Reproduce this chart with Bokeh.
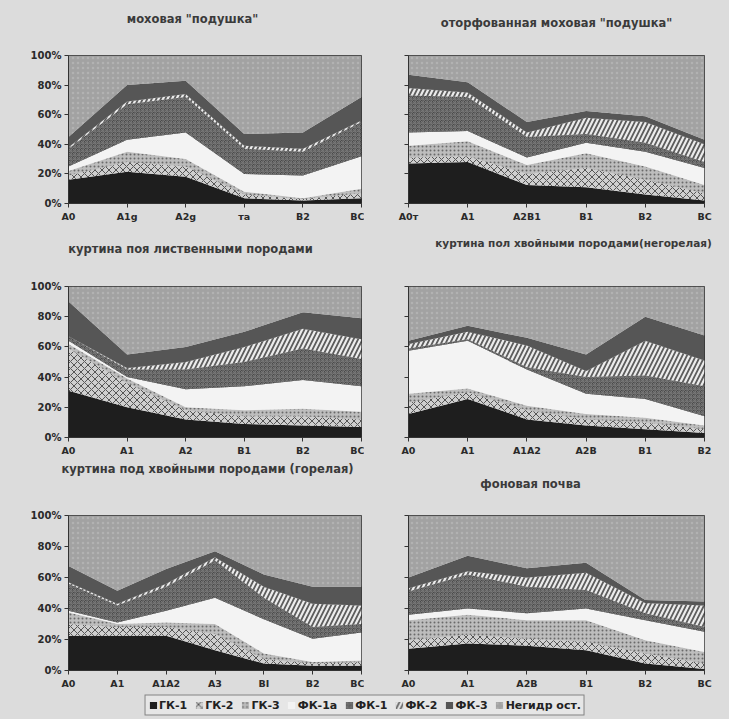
from bokeh.plotting import figure
from bokeh.layouts import column, row
from bokeh.models import Range1d, FixedTicker, Legend, LegendItem, ColumnDataSource, Label
from bokeh.embed import file_html
from bokeh.resources import INLINE

# ---------------- data ----------------
titles = [
    'моховая "подушка"',
    'оторфованная моховая "подушка"',
    'куртина поя лиственными породами',
    'куртина пол хвойными породами(негорелая)',
    'куртина под хвойными породами (горелая)',
    'фоновая почва',
]
categories = [
    ["A0", "A1g", "A2g", "та", "B2", "BC"],
    ["A0т", "A1", "A2B1", "B1", "B2", "BC"],
    ["A0", "A1", "A2", "B1", "B2", "BC"],
    ["A0", "A1", "A1A2", "A2B", "B1", "B2"],
    ["A0", "A1", "A1A2", "A3", "BI", "B2", "BC"],
    ["A0", "A1", "A2B", "B1", "B2", "BC"],
]
series_names = ["ГК-1", "ГК-2", "ГК-3", "ФК-1а", "ФК-1", "ФК-2", "ФК-3", "Негидр ост."]

gk1 = [[16, 21.5, 18, 3.5, 2, 3.5],
       [27, 28, 12.5, 11, 6, 2],
       [31, 20, 12, 9, 8, 7],
       [15.5, 25.5, 12, 8, 5.5, 3],
       [22.5, 22.5, 22.5, 13, 4.5, 3, 3],
       [14, 17.5, 16, 13, 4.5, 1]]
gk2 = [[3, 6.5, 7, 2.5, 1, 3.5],
       [4, 4, 7.5, 13, 10, 5],
       [28, 16, 6, 5, 6, 5],
       [7.5, 4.5, 6, 4, 4.5, 2.5],
       [7.5, 5.5, 5.5, 10.5, 3, 1.5, 2.5],
       [5.5, 5.5, 4.5, 5.5, 6.5, 3.5]]
gk3 = [[3, 7, 5, 2, 0.5, 3],
       [8, 10, 6, 10, 9, 5.5],
       [3, 3, 2, 4, 5, 5],
       [6, 2.5, 3, 3.5, 3, 2.5],
       [7.5, 2, 3, 6.5, 3.5, 1, 1],
       [13, 13, 12, 14, 8.5, 7.5]]
fk1a = [[3, 8, 18, 12, 15.5, 22],
        [9, 7, 5, 7, 10, 11.5],
        [2, 1, 12, 16, 19, 17],
        [28.5, 31.5, 24, 13.5, 12.5, 6],
        [1, 1, 7.5, 17, 22, 15, 18],
        [3.5, 4, 4.5, 7.5, 13, 13]]
fk1 = [[12, 24, 24, 17, 16, 23],
       [25, 23, 14, 6, 6, 4],
       [3, 5, 13, 16, 21, 18],
       [1.5, 1, 1.5, 11, 15.5, 20],
       [17.5, 11, 15.5, 24, 14, 7.5, 5.5],
       [15, 22, 17, 12, 4.5, 3]]
fk2 = [[1, 2, 2, 2, 2, 1],
       [5, 3, 3, 11, 14, 12],
       [0, 1, 5, 10, 13, 13],
       [3, 5, 14.5, 4, 23, 17],
       [1, 1, 2, 2, 7, 15, 12],
       [2, 2, 6, 11, 6.5, 14]]
fk3 = [[7, 11, 9, 8, 11, 16],
       [9, 7, 7, 4.5, 4, 3],
       [23, 9, 10, 10, 11, 14],
       [2, 4, 5, 11, 16, 16.5],
       [10.5, 8.5, 9.5, 4, 8, 11, 12],
       [7, 10, 6, 6.5, 2, 2.5]]
negidr = [[55, 20, 17, 53, 52, 28],
          [13, 18, 45, 37.5, 41, 57],
          [10, 45, 40, 30, 17, 21],
          [36, 26, 34, 45, 20, 32.5],
          [32.5, 48.5, 34.5, 23, 38, 46, 46],
          [40, 26, 34, 30.5, 54, 55.5]]
series = [gk1, gk2, gk3, fk1a, fk1, fk2, fk3, negidr]
y_ticks = [0, 20, 40, 60, 80, 100]
y_labels = ["0%", "20%", "40%", "60%", "80%", "100%"]

# ---------------- style ----------------
BG = "#dcdcdc"
FONT = "DejaVu Sans"
fill_colors = ["#1e1e1e", "#cfcfcf", "#bdbdbd", "#f3f3f3", "#4a4a4a", "#5c5c5c", "#565656", "#a2a2a2"]
hatch_patterns = [" ", "diagonal_cross", "dot", " ", "criss_cross", "right_diagonal_line", " ", "dot"]
hatch_colors = ["#000000", "#555555", "#6a6a6a", "#000000", "#777777", "#ececec", "#000000", "#b2b2b2"]
hatch_scales = [6, 7, 4, 6, 4, 9, 6, 5]
hatch_weights = [1, 1, 1.2, 1, 1, 2.2, 1, 1]
LEFT_W, RIGHT_W = 364, 365
BAND_H = 40
# title centre: (x in its band, y from band top), font size
title_pos = [(192, 18), (192, 22), (190, 18), (209, 12), (207, 8), (166, 23)]
title_sizes = ["11.5px", "11.5px", "11.5px", "10.5px", "11.5px", "11.5px"]


def title_band(i, width):
    t = figure(width=width, height=BAND_H, x_range=Range1d(0, width),
               y_range=Range1d(0, BAND_H), x_axis_type=None, y_axis_type=None,
               min_border=0, output_backend="svg", toolbar_location=None,
               background_fill_color=BG, border_fill_color=BG, outline_line_color=None)
    t.grid.visible = False
    tx, ty = title_pos[i]
    t.add_layout(Label(x=tx, y=BAND_H - ty, text=titles[i], text_align="center",
                       text_baseline="middle", text_font=FONT, text_font_size=title_sizes[i],
                       text_font_style="bold", text_color="#3a3a3a"))
    return t


def make_panel(i, left, top_b, frame_h, bottom_b):
    cats = categories[i]
    n = len(cats)
    data = {"x": list(range(n))}
    keys = []
    for k, s in enumerate(series):
        key = "s%d" % k
        data[key] = s[i]
        keys.append(key)
    if left:
        fw, bl, br = 293, 68, 3
    else:
        fw, bl, br = 296, 44, 25
    p = figure(frame_width=fw, frame_height=frame_h,
               min_border_left=bl, min_border_right=br,
               min_border_top=top_b, min_border_bottom=bottom_b,
               x_range=Range1d(0, n - 1), y_range=Range1d(0, 100),
               output_backend="svg", toolbar_location=None,
               background_fill_color=BG, border_fill_color=BG,
               outline_line_color="#333333", outline_line_width=1)
    p.varea_stack(keys, x="x", source=ColumnDataSource(data),
                  fill_color=fill_colors, hatch_pattern=hatch_patterns,
                  hatch_color=hatch_colors, hatch_scale=hatch_scales,
                  hatch_weight=hatch_weights)
    p.grid.visible = False
    p.xaxis.ticker = FixedTicker(ticks=list(range(n)))
    p.xaxis.major_label_overrides = {j: c for j, c in enumerate(cats)}
    p.yaxis.ticker = FixedTicker(ticks=y_ticks)
    if left:
        p.yaxis.major_label_overrides = {t: l for t, l in zip(y_ticks, y_labels)}
    else:
        p.yaxis.major_label_overrides = {t: "" for t in y_ticks}
    for ax in (p.xaxis, p.yaxis):
        ax.axis_line_color = "#333333"
        ax.major_tick_line_color = "#333333"
        ax.major_tick_out = 4
        ax.major_tick_in = 0
        ax.minor_tick_line_color = None
        ax.major_label_standoff = 3
        ax.major_label_text_font = FONT
        ax.major_label_text_font_size = "9.5px"
        ax.major_label_text_font_style = "bold"
        ax.major_label_text_color = "#2a2a2a"
    p.yaxis.major_label_text_font_size = "10px"
    return p


p1 = make_panel(0, True, 15, 148, 27)
p2 = make_panel(1, False, 15, 148, 27)
p3 = make_panel(2, True, 16, 151, 23)
p4 = make_panel(3, False, 16, 151, 23)
p5 = make_panel(4, True, 15, 155, 20)
p6 = make_panel(5, False, 15, 155, 20)

lp = figure(width=729, height=28, x_range=Range1d(0, 1), y_range=Range1d(0, 1),
            x_axis_type=None, y_axis_type=None, min_border=0,
            output_backend="svg", toolbar_location=None,
            background_fill_color=BG, border_fill_color=BG, outline_line_color=None)
lp.grid.visible = False
items = []
for k, name in enumerate(series_names):
    r = lp.varea(x=[0, 1], y1=[0, 0], y2=[0, 0], fill_color=fill_colors[k],
                 hatch_pattern=hatch_patterns[k], hatch_color=hatch_colors[k],
                 hatch_scale=hatch_scales[k], hatch_weight=hatch_weights[k])
    items.append(LegendItem(label=name, renderers=[r]))
leg = Legend(items=items, orientation="horizontal", location="center",
             glyph_width=9, glyph_height=9, spacing=7, padding=3, margin=0,
             label_standoff=2, label_text_font=FONT, label_text_font_size="11px",
             label_text_font_style="bold", label_text_color="#222222",
             border_line_color="#222222", border_line_width=1.5,
             background_fill_color="#e6e6e6", background_fill_alpha=1)
lp.add_layout(leg, "center")

layout = column(row(title_band(0, LEFT_W), title_band(1, RIGHT_W)), row(p1, p2),
                row(title_band(2, LEFT_W), title_band(3, RIGHT_W)), row(p3, p4),
                row(title_band(4, LEFT_W), title_band(5, RIGHT_W)), row(p5, p6),
                lp, styles={"background-color": BG})
open("out.html", "w").write(file_html(layout, INLINE))
